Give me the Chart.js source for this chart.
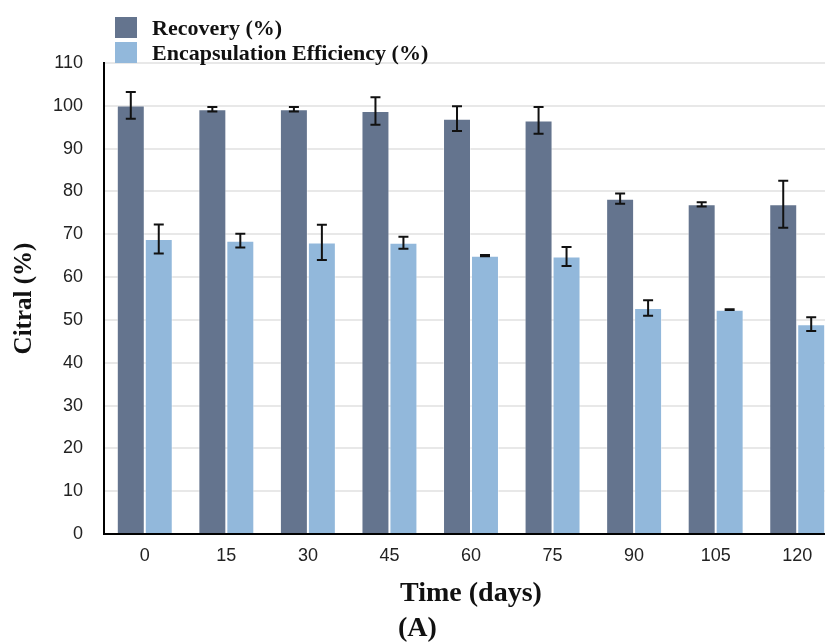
<!DOCTYPE html>
<html>
<head>
<meta charset="utf-8">
<title>Citral retention</title>
<script src="https://cdn.jsdelivr.net/npm/chart.js@4.4.1/dist/chart.umd.min.js"></script>
<style>
    html, body { margin: 0; padding: 0; background: #fff; overflow: hidden; }
    #wrap { width: 850px; height: 642px; }
</style>
</head>
<body>
<div id="wrap"><canvas id="citralChart" width="850" height="642"></canvas></div>
<script>
// Storage time points and measured values (mean ± sd)
const days = ['0', '15', '30', '45', '60', '75', '90', '105', '120'];
const recovery = [100.1, 99.2, 99.2, 98.8, 97.0, 96.6, 78.3, 77.0, 77.0];
const recoveryErr = [3.1, 0.5, 0.5, 3.2, 2.9, 3.1, 1.2, 0.5, 5.5];
const efficiency = [68.9, 68.5, 68.1, 68.0, 65.0, 64.8, 52.8, 52.4, 49.0];
const efficiencyErr = [3.4, 1.6, 4.1, 1.4, 0.15, 2.2, 1.8, 0.1, 1.6];
const yTicks = [0, 10, 20, 30, 40, 50, 60, 70, 80, 90, 100, 110];

const DARK = '#64748e';
const LIGHT = '#92b8db';
const SERIF = '"Liberation Serif", "Times New Roman", serif';
const SANS = '"Liberation Sans", Arial, sans-serif';

/**
 * Error bars: vertical whisker with caps, one per bar
 */
const errorBars = {
    id: 'errorBars',
    afterDatasetsDraw(chart) {
        const ctx = chart.ctx;
        const y = chart.scales.y;
        ctx.save();
        ctx.strokeStyle = '#111';
        ctx.lineWidth = 2;
        chart.data.datasets.forEach((ds, i) => {
            const meta = chart.getDatasetMeta(i);
            meta.data.forEach((bar, j) => {
                const v = ds.data[j];
                const e = ds.errors[j];
                const top = y.getPixelForValue(v + e);
                const bottom = y.getPixelForValue(v - e);
                const cap = 5;
                ctx.beginPath();
                ctx.moveTo(bar.x, top);
                ctx.lineTo(bar.x, bottom);
                ctx.moveTo(bar.x - cap, top);
                ctx.lineTo(bar.x + cap, top);
                ctx.moveTo(bar.x - cap, bottom);
                ctx.lineTo(bar.x + cap, bottom);
                ctx.stroke();
            });
        });
        ctx.restore();
    }
};

/**
 * Stacked legend in the top-left corner plus the panel letter
 */
const sideLegend = {
    id: 'sideLegend',
    afterDraw(chart) {
        const ctx = chart.ctx;
        ctx.save();
        ctx.font = 'bold 22px ' + SERIF;
        ctx.textBaseline = 'middle';
        ctx.textAlign = 'left';
        chart.data.datasets.forEach((ds, i) => {
            const top = 17 + i * 25;
            ctx.fillStyle = ds.backgroundColor;
            ctx.fillRect(115, top, 22, 21);
            ctx.fillStyle = '#111';
            ctx.fillText(ds.label, 152, top + 12);
        });
        ctx.font = 'bold 28px ' + SERIF;
        ctx.fillText('(A)', 398, 629);
        ctx.restore();
    }
};

const ctx = document.getElementById('citralChart').getContext('2d');

new Chart(ctx, {
    type: 'bar',
    data: {
        labels: days,
        datasets: [{
            label: 'Recovery (%)',
            data: recovery,
            errors: recoveryErr,
            backgroundColor: DARK,
            borderColor: 'rgba(255, 255, 255, 0.45)',
            borderWidth: 1,
            categoryPercentage: 0.686,
            barPercentage: 1.0
        }, {
            label: 'Encapsulation Efficiency (%)',
            data: efficiency,
            errors: efficiencyErr,
            backgroundColor: LIGHT,
            borderColor: 'rgba(255, 255, 255, 0.45)',
            borderWidth: 1,
            categoryPercentage: 0.686,
            barPercentage: 1.0
        }]
    },
    options: {
        responsive: false,
        animation: false,
        devicePixelRatio: 1,
        layout: {
            padding: { top: 63, right: 12, left: 0, bottom: 0 }
        },
        scales: {
            x: {
                grid: { display: false },
                border: { color: '#000', width: 2 },
                ticks: {
                    font: { family: SANS, size: 18 },
                    color: '#222',
                    padding: 3
                },
                title: {
                    display: true,
                    text: 'Time (days)',
                    font: { family: SERIF, size: 28, weight: 'bold' },
                    color: '#111',
                    padding: { top: 0, bottom: 31 }
                },
                afterFit(scale) { scale.height = 108; }
            },
            y: {
                min: 0,
                max: 110,
                grid: { color: '#e8e8e8', lineWidth: 2, drawTicks: false },
                border: { color: '#000', width: 2 },
                afterBuildTicks(scale) {
                    scale.ticks = yTicks.map(v => ({ value: v }));
                },
                ticks: {
                    font: { family: SANS, size: 18 },
                    color: '#222',
                    padding: 21
                },
                title: {
                    display: true,
                    text: 'Citral (%)',
                    font: { family: SERIF, size: 25, weight: 'bold' },
                    color: '#111',
                    padding: { top: 10, bottom: 0 }
                },
                afterFit(scale) { scale.width = 104; }
            }
        },
        plugins: {
            legend: { display: false },
            tooltip: { enabled: false }
        }
    },
    plugins: [errorBars, sideLegend]
});
</script>
</body>
</html>
